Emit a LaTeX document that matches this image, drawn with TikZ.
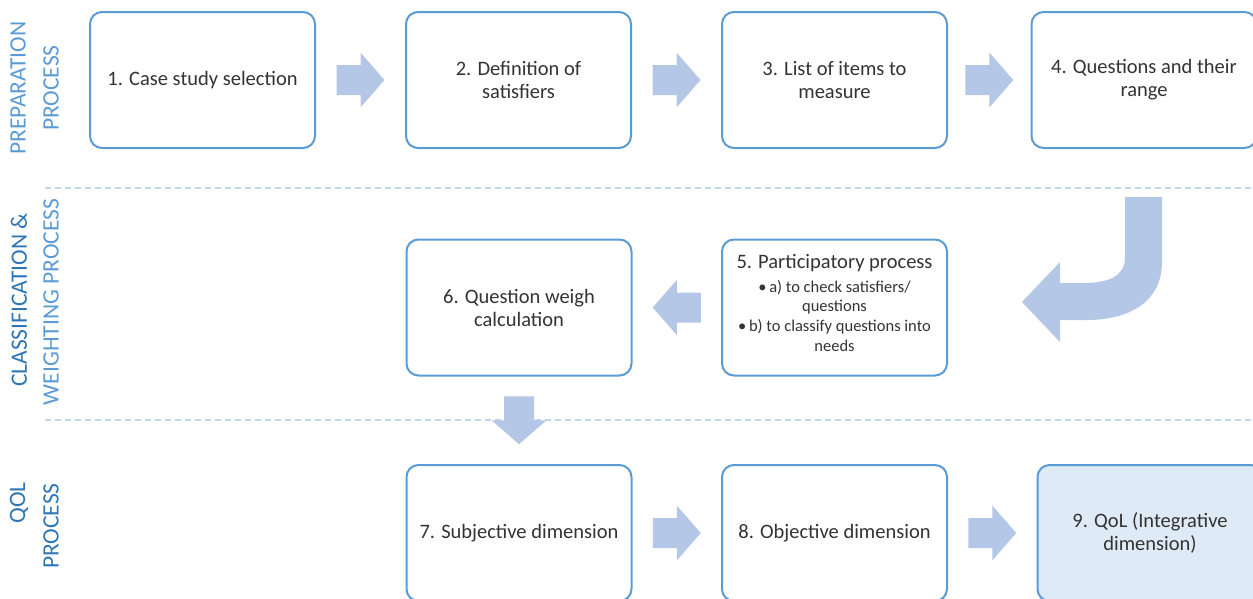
\documentclass[tikz,border=0pt]{standalone}
\usepackage{fontspec}
\setmainfont{Carlito}
\usetikzlibrary{calc}

\definecolor{boxline}{HTML}{5B9BD5}
\definecolor{arrowfill}{HTML}{B4C7E7}
\definecolor{hilite}{HTML}{DEEBF7}
\definecolor{textc}{HTML}{333333}
\definecolor{laneA}{HTML}{5B9BD5}
\definecolor{laneB}{HTML}{2E75B6}
\definecolor{sepline}{HTML}{BDD7EE}

\tikzset{
  stepbox/.style={draw=boxline, line width=2pt, rounded corners=12pt, fill=white,
    text=textc, align=center, inner sep=0pt,
    minimum width=225pt, minimum height=136pt,
    font=\fontsize{20.5}{23}\selectfont},
  blockarrow/.pic={\fill[arrowfill] (-24,-15) -- (0,-15) -- (0,-27.5) -- (24,0)
    -- (0,27.5) -- (0,15) -- (-24,15) -- cycle;},
  lanelabel/.style={rotate=90, inner sep=0pt, anchor=center,
    font=\fontsize{23.5}{25}\selectfont},
  lanesep/.style={draw=sepline, line width=1.3pt, dash pattern=on 6pt off 4pt},
}

\begin{document}
\begin{tikzpicture}[x=1pt, y=-1pt]
  \useasboundingbox (0,0) rectangle (1253,598);
  \clip (0,0) rectangle (1253,598);

  % lane separators
  \coordinate (s1a) at (45,188);  \coordinate (s1b) at (1253,188);
  \coordinate (s2a) at (45,420);  \coordinate (s2b) at (1253,420);
  \draw[lanesep] (s1a) -- (s1b);
  \draw[lanesep] (s2a) -- (s2b);

  % lane titles
  \node[lanelabel, text=laneA] (l1a) at (18,88)  {PREPARATION};
  \node[lanelabel, text=laneA] (l1b) at (51,88)  {PROCESS};
  \node[lanelabel, text=laneB] (l2a) at (19,300) {CLASSIFICATION \&};
  \node[lanelabel, text=laneA] (l2b) at (51,302) {WEIGHTING PROCESS};
  \node[lanelabel, text=laneB] (l3a) at (19,503) {QOL};
  \node[lanelabel, text=laneB] (l3b) at (51,526) {PROCESS};

  % preparation row
  \node[stepbox] (b1) at (202.5,80) {1. Case study selection};
  \node[stepbox] (b2) at (518.5,80) {2. Definition of\\satisfiers};
  \node[stepbox] (b3) at (834.5,80) {3. List of items to\\measure};
  \node[stepbox] (b4) at (1144,80)  {4. Questions and their\\range};

  % classification & weighting row
  \node[stepbox] (b6) at (519,307.5) {6. Question weigh\\calculation};
  \node[stepbox] (b5) at (834.5,307.5) {};
  \node[text=textc, align=center, inner sep=0pt, anchor=north,
        font=\fontsize{16.5}{19.7}\selectfont] (b5t) at ([yshift=-15.5pt]b5.north)
    {{\fontsize{20.5}{23}\selectfont 5. Participatory process}\\[4pt]
     \textbullet\,a) to check satisfiers/\\questions\\
     \textbullet\,b) to classify questions into\\needs};

  % QoL row
  \node[stepbox] (b7) at (519,533)   {7. Subjective dimension};
  \node[stepbox] (b8) at (834.5,533) {8. Objective dimension};
  \node[stepbox, fill=hilite] (b9) at (1150,533) {9. QoL (Integrative\\dimension)};

  % block arrows between steps
  \pic at ($(b1.east)!0.5!(b2.west)$) {blockarrow};
  \pic at ($(b2.east)!0.5!(b3.west)$) {blockarrow};
  \pic at ($(b3.east)!0.5!(b4.west)$) {blockarrow};
  \pic[rotate=180] at ($(b5.west)!0.5!(b6.east)$) {blockarrow};
  \pic[rotate=-90] at ($(b6.south)!0.5!(b7.north)$) {blockarrow};
  \pic at ($(b7.east)!0.5!(b8.west)$) {blockarrow};
  \pic at ($(b8.east)!0.5!(b9.west)$) {blockarrow};

  % bent arrow from step 4 down to step 5
  \fill[arrowfill] (1125,197) -- (1162,197) -- (1162,262)
    .. controls (1162,300) and (1132,320) .. (1086,320)
    -- (1060,320) -- (1060,342) -- (1022,302) -- (1060,262) -- (1060,283)
    -- (1084,283) .. controls (1108,283) and (1125,276) .. (1125,258) -- cycle;
\end{tikzpicture}
\end{document}
